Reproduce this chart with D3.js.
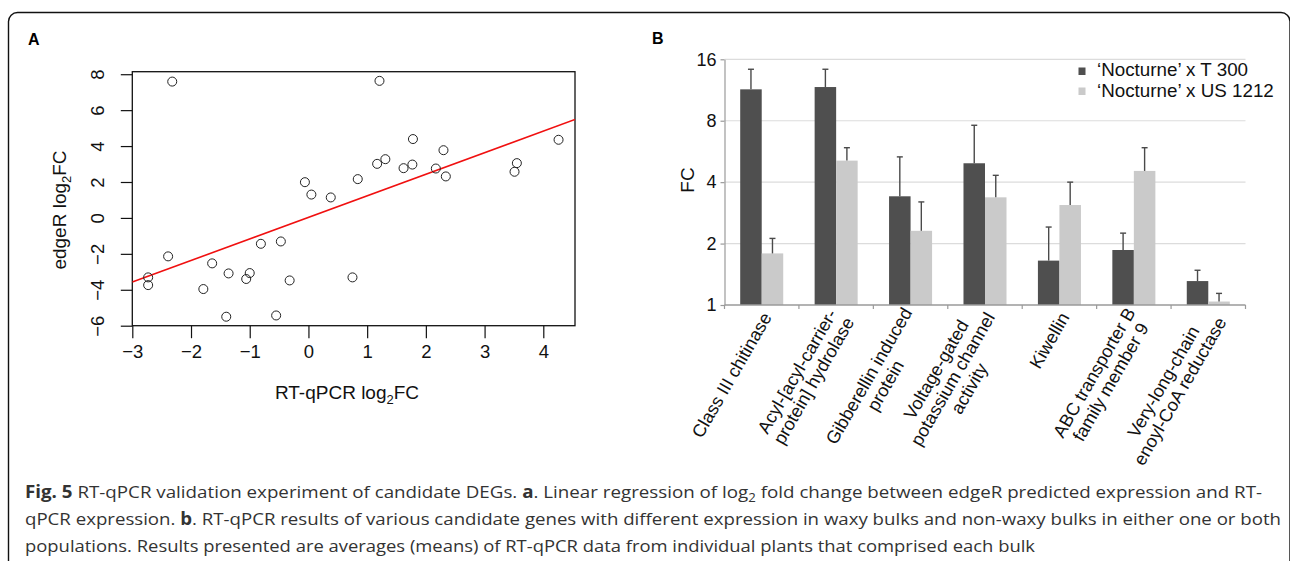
<!DOCTYPE html>
<html>
<head>
<meta charset="utf-8">
<script src="https://cdn.jsdelivr.net/npm/d3@7"></script>
<style>
  body { margin: 0; background: #fff; }
  svg { display: block; }
</style>
</head>
<body>
<div id="fig"></div>
<script>
// panel A - RT-qPCR vs edgeR log2 fold change
const rtqpcrLogFC = [-2.32, 1.21, 1.78, 4.26, 2.30, 1.31, 1.17, 1.77, 1.62, 2.17, 2.34, 3.55, 3.51,
  -0.06, 0.05, 0.38, 0.84, -0.81, -0.47, -2.39, -1.64, -2.73, -2.73, -1.36, -1.00, -1.06, -0.32,
  0.75, -1.79, -1.40, -0.55];
const edgerLogFC = [7.59, 7.63, 4.39, 4.35, 3.77, 3.27, 3.01, 2.97, 2.77, 2.75, 2.31, 3.05, 2.57,
  1.99, 1.30, 1.14, 2.16, -1.44, -1.31, -2.14, -2.53, -3.31, -3.74, -3.09, -3.07, -3.40, -3.48,
  -3.31, -3.96, -5.50, -5.43];
const fitIntercept = 0.03, fitSlope = 1.20;
const xTicksA = [-3, -2, -1, 0, 1, 2, 3, 4];
const yTicksA = [-6, -4, -2, 0, 2, 4, 6, 8];

// panel B - fold change per gene
const genes = [
  ["Class III chitinase"],
  ["Acyl-[acyl-carrier-", "protein] hydrolase"],
  ["Gibberellin induced", "protein"],
  ["Voltage-gated", "potassium channel", "activity"],
  ["Kiwellin"],
  ["ABC transporter B", "family member 9"],
  ["Very-long-chain", "enoyl-CoA reductase"]
];
const seriesNames = ["\u2018Nocturne\u2019 x T 300", "\u2018Nocturne\u2019 x US 1212"];
const fcT300 = [11.4, 11.7, 3.41, 4.95, 1.65, 1.86, 1.31];
const fcT300Upper = [14.3, 14.3, 5.32, 7.6, 2.41, 2.25, 1.48];
const fcUS1212 = [1.79, 5.10, 2.31, 3.37, 3.09, 4.54, 1.04];
const fcUS1212Upper = [2.12, 5.90, 3.2, 4.32, 4.0, 5.9, 1.14];
const yTicksB = [1, 2, 4, 8, 16];

const W = 1290, H = 561;
const svg = d3.select("#fig").append("svg")
  .attr("width", W).attr("height", H);

svg.append("rect").attr("width", W).attr("height", H).attr("fill", "#fff");

// outer frame (bottom runs off the page)
svg.append("rect")
  .attr("x", 8.5).attr("y", 12.5)
  .attr("width", 1281.5).attr("height", 620)
  .attr("rx", 9)
  .attr("fill", "none").attr("stroke", "#111").attr("stroke-width", 1.4);

const helv = "'Liberation Sans', Arial, Helvetica, sans-serif";

// ---------- panel A ----------
const gA = svg.append("g").attr("font-family", helv);

gA.append("text").attr("x", 28).attr("y", 45)
  .attr("font-size", 16).attr("font-weight", "bold").text("A");

const x = d3.scaleLinear().domain([-3, 4.54]).range([132.3, 575]);
const y = d3.scaleLinear().domain([-6, 8.14]).range([325.7, 71.7]);

svg.append("clipPath").attr("id", "clipA")
  .append("rect")
  .attr("x", x.range()[0]).attr("y", y.range()[1])
  .attr("width", x.range()[1] - x.range()[0])
  .attr("height", y.range()[0] - y.range()[1]);

const xAxisA = gA.append("g")
  .attr("transform", "translate(0," + y.range()[0] + ")")
  .call(d3.axisBottom(x).tickValues(xTicksA).tickSize(12.5).tickPadding(7));
xAxisA.select(".domain").remove();
xAxisA.selectAll("line").attr("stroke", "#111").attr("stroke-width", 1.2);
xAxisA.selectAll("text").attr("font-size", 18.5).attr("fill", "#111")
  .attr("font-family", helv);

const yAxisA = gA.append("g")
  .attr("transform", "translate(" + x.range()[0] + ",0)")
  .call(d3.axisLeft(y).tickValues(yTicksA).tickSize(11.5));
yAxisA.select(".domain").remove();
yAxisA.selectAll("line").attr("stroke", "#111").attr("stroke-width", 1.2);
yAxisA.selectAll("text")
  .attr("font-size", 18.5).attr("fill", "#111").attr("font-family", helv)
  .attr("x", 0).attr("dy", "0.35em").attr("text-anchor", "middle")
  .attr("transform", "translate(-35,0) rotate(-90)");

// box
gA.append("rect")
  .attr("x", x.range()[0]).attr("y", y.range()[1])
  .attr("width", x.range()[1] - x.range()[0])
  .attr("height", y.range()[0] - y.range()[1])
  .attr("fill", "none").attr("stroke", "#111").attr("stroke-width", 1.3);

// axis titles
const xt = gA.append("text").attr("x", 347).attr("y", 398.5)
  .attr("text-anchor", "middle").attr("font-size", 19).attr("fill", "#111");
xt.append("tspan").text("RT-qPCR log");
xt.append("tspan").attr("font-size", 13).attr("dy", 5).text("2");
xt.append("tspan").attr("dy", -5).text("FC");

const yt = gA.append("text")
  .attr("transform", "translate(66,210) rotate(-90)")
  .attr("text-anchor", "middle").attr("font-size", 19).attr("fill", "#111");
yt.append("tspan").text("edgeR log");
yt.append("tspan").attr("font-size", 13).attr("dy", 5).text("2");
yt.append("tspan").attr("dy", -5).text("FC");

// regression line
const plotA = gA.append("g").attr("clip-path", "url(#clipA)");
plotA.append("line")
  .attr("x1", x(x.domain()[0])).attr("y1", y(fitIntercept + fitSlope * x.domain()[0]))
  .attr("x2", x(x.domain()[1])).attr("y2", y(fitIntercept + fitSlope * x.domain()[1]))
  .attr("stroke", "#f01010").attr("stroke-width", 1.6);

plotA.selectAll("circle.pt")
  .data(rtqpcrLogFC)
  .enter()
  .append("circle")
  .attr("class", "pt")
  .attr("cx", function(d) { return x(d); })
  .attr("cy", function(d, i) { return y(edgerLogFC[i]); })
  .attr("r", 4.5)
  .attr("fill", "none").attr("stroke", "#222").attr("stroke-width", 1);

// ---------- panel B ----------
const gB = svg.append("g").attr("font-family", helv);

gB.append("text").attr("x", 652).attr("y", 43.5)
  .attr("font-size", 16).attr("font-weight", "bold").text("B");

const bx = d3.scaleBand().domain(d3.range(genes.length)).range([724.5, 1245.5]);
const bs = d3.scaleBand().domain([0, 1]).range([0, bx.bandwidth()]).paddingOuter(0.73);
const by = d3.scaleLog().base(2).domain([1, 16]).range([305, 59.3]);

// gridlines
gB.append("g").selectAll("line")
  .data(yTicksB.slice(1))
  .enter().append("line")
  .attr("x1", bx.range()[0]).attr("x2", bx.range()[1])
  .attr("y1", function(d) { return by(d); }).attr("y2", function(d) { return by(d); })
  .attr("stroke", "#dcdcdc").attr("stroke-width", 1.2);

// y axis
const yAxisB = gB.append("g")
  .attr("transform", "translate(" + bx.range()[0] + ",0)")
  .call(d3.axisLeft(by).tickValues(yTicksB).tickFormat(d3.format("d")).tickSize(4).tickSizeOuter(0).tickPadding(4));
yAxisB.select(".domain").attr("stroke", "#9a9a9a").attr("stroke-width", 1.2);
yAxisB.selectAll("line").attr("stroke", "#9a9a9a").attr("stroke-width", 1.2);
yAxisB.selectAll("text").attr("font-size", 18).attr("fill", "#111").attr("font-family", helv);

gB.append("text")
  .attr("transform", "translate(694,180) rotate(-90)")
  .attr("text-anchor", "middle").attr("font-size", 19).attr("fill", "#111")
  .text("FC");

// bars
const series = [
  { vals: fcT300, upper: fcT300Upper, color: "#4f4f4f" },
  { vals: fcUS1212, upper: fcUS1212Upper, color: "#cacaca" }
];

series.forEach(function(s, si) {
  const g = gB.append("g");
  g.selectAll("rect")
    .data(s.vals)
    .enter().append("rect")
    .attr("x", function(d, i) { return bx(i) + bs(si); })
    .attr("y", function(d) { return by(d); })
    .attr("width", bs.bandwidth())
    .attr("height", function(d) { return by(1) - by(d); })
    .attr("fill", s.color);

  // upper error bars
  g.selectAll("line.err")
    .data(s.upper)
    .enter().append("line")
    .attr("class", "err")
    .attr("x1", function(d, i) { return bx(i) + bs(si) + bs.bandwidth() / 2; })
    .attr("x2", function(d, i) { return bx(i) + bs(si) + bs.bandwidth() / 2; })
    .attr("y1", function(d, i) { return by(s.vals[i]); })
    .attr("y2", function(d) { return by(d); })
    .attr("stroke", "#4a4a4a").attr("stroke-width", 1.4);
  g.selectAll("line.cap")
    .data(s.upper)
    .enter().append("line")
    .attr("class", "cap")
    .attr("x1", function(d, i) { return bx(i) + bs(si) + bs.bandwidth() / 2 - 3; })
    .attr("x2", function(d, i) { return bx(i) + bs(si) + bs.bandwidth() / 2 + 3; })
    .attr("y1", function(d) { return by(d); })
    .attr("y2", function(d) { return by(d); })
    .attr("stroke", "#4a4a4a").attr("stroke-width", 1.4);
});

// category axis
gB.append("line")
  .attr("x1", bx.range()[0]).attr("x2", bx.range()[1])
  .attr("y1", by(1)).attr("y2", by(1))
  .attr("stroke", "#9a9a9a").attr("stroke-width", 1.3);
gB.append("g").selectAll("line")
  .data(d3.range(genes.length + 1))
  .enter().append("line")
  .attr("x1", function(d) { return bx.range()[0] + d * bx.step(); })
  .attr("x2", function(d) { return bx.range()[0] + d * bx.step(); })
  .attr("y1", by(1)).attr("y2", by(1) + 4)
  .attr("stroke", "#9a9a9a").attr("stroke-width", 1.2);

// rotated, centred multi-line labels
const labelSize = 18, lineH = 19, angle = -60;
genes.forEach(function(lines, i) {
  const cx = bx(i) + bx.bandwidth() / 2 + 5;
  const g = gB.append("g")
    .attr("transform", "translate(" + cx + "," + (by(1) + 9) + ") rotate(" + angle + ")");
  const texts = g.selectAll("text")
    .data(lines)
    .enter().append("text")
    .attr("text-anchor", "end")
    .attr("font-size", labelSize)
    .attr("fill", "#111")
    .attr("y", function(d, j) { return (j - (lines.length - 1) / 2) * lineH; })
    .attr("dy", "0.35em")
    .text(function(d) { return d; });
  const widths = texts.nodes().map(function(n) { return n.getComputedTextLength(); });
  const maxW = d3.max(widths);
  texts.attr("x", function(d, j) { return -(maxW - widths[j]) / 2; });
});

// legend
const legend = gB.append("g");
series.forEach(function(s, si) {
  legend.append("rect")
    .attr("x", 1078.5).attr("y", 67.5 + si * 20)
    .attr("width", 7).attr("height", 7.5)
    .attr("fill", s.color);
  legend.append("text")
    .attr("x", 1097).attr("y", 76 + si * 20.5)
    .attr("font-size", 18.8).attr("fill", "#111")
    .text(seriesNames[si]);
});

// ---------- caption ----------
const cap = svg.append("g")
  .attr("font-family", "'Open Sans', 'Noto Sans', sans-serif")
  .attr("font-size", 17).attr("fill", "#333");

const l1 = cap.append("text").attr("x", 25).attr("y", 498)
  .attr("textLength", 1237).attr("lengthAdjust", "spacingAndGlyphs");
l1.append("tspan").attr("font-weight", "bold").text("Fig. 5");
l1.append("tspan").text(" RT-qPCR validation experiment of candidate DEGs. ");
l1.append("tspan").attr("font-weight", "bold").text("a");
l1.append("tspan").text(". Linear regression of log");
l1.append("tspan").attr("font-size", 12).attr("dy", 4).text("2");
l1.append("tspan").attr("dy", -4).text(" fold change between edgeR predicted expression and RT-");

const l2 = cap.append("text").attr("x", 25).attr("y", 525)
  .attr("textLength", 1256).attr("lengthAdjust", "spacingAndGlyphs");
l2.append("tspan").text("qPCR expression. ");
l2.append("tspan").attr("font-weight", "bold").text("b");
l2.append("tspan").text(". RT-qPCR results of various candidate genes with different expression in waxy bulks and non-waxy bulks in either one or both");

cap.append("text").attr("x", 25).attr("y", 551.5)
  .attr("textLength", 1010).attr("lengthAdjust", "spacingAndGlyphs")
  .text("populations. Results presented are averages (means) of RT-qPCR data from individual plants that comprised each bulk");
</script>
</body>
</html>
